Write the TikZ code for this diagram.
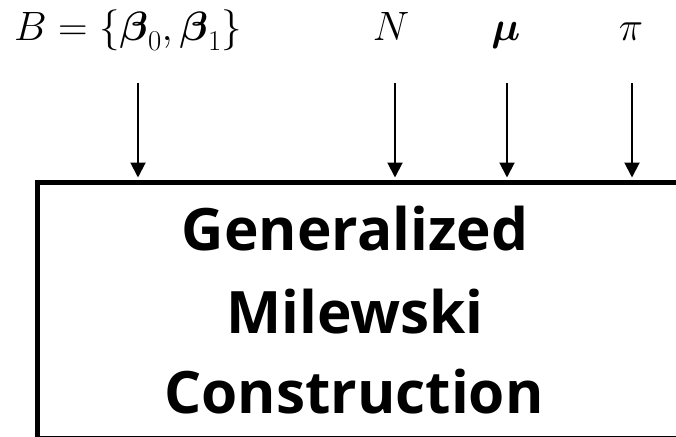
\RequirePackage{fix-cm}
\documentclass[tikz,border=0pt]{standalone}
\usepackage{amsmath,amssymb}
\usepackage[no-math]{fontspec}
\newfontfamily\boxfont{Open Sans}
\usetikzlibrary{arrows.meta,calc}
\tikzset{
  inarrow/.style={line width=2pt, -{Triangle[length=15pt,width=15pt]}, shorten >=2.5pt},
  lbl/.style={anchor=base, inner sep=0pt, font=\fontsize{41}{48}\selectfont},
  boxtxt/.style={anchor=base, inner sep=0pt, font=\boxfont\bfseries\fontsize{58.5}{70}\selectfont},
  bigbox/.style={draw, line width=5pt, inner sep=0pt, anchor=north west}
}
\begin{document}
\begin{tikzpicture}[x=1pt,y=-1pt]
\clip (0,0) rectangle (676,436);
\node[bigbox, minimum width=660pt, minimum height=256pt] (box) at (35,180) {};
\node[lbl, anchor=base west] (lB) at (14,41) {$B=\{\boldsymbol{\beta}_0,\boldsymbol{\beta}_1\}$};
\node[lbl] (lN) at (391,41) {$N$};
\node[lbl] (lmu) at (506,41) {$\boldsymbol{\mu}$};
\node[lbl] (lpi) at (631,41) {$\pi$};
\coordinate (s1) at (138,83);
\coordinate (s2) at (395,83);
\coordinate (s3) at (507,83);
\coordinate (s4) at (632,83);
\draw[inarrow] (s1) -- (s1 |- box.north);
\draw[inarrow] (s2) -- (s2 |- box.north);
\draw[inarrow] (s3) -- (s3 |- box.north);
\draw[inarrow] (s4) -- (s4 |- box.north);
\node[boxtxt] (t1) at (355,250) {Generalized};
\node[boxtxt] (t2) at (355,333) {Milewski};
\node[boxtxt] (t3) at (354,413) {Construction};
\end{tikzpicture}
\end{document}
